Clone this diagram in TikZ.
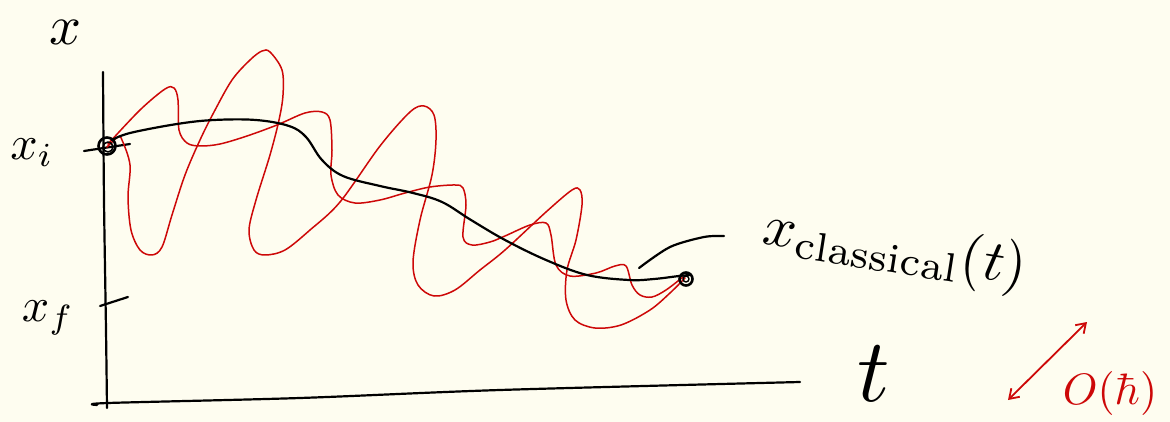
\documentclass[tikz,border=0pt]{standalone}
\usepackage{graphicx}
\usetikzlibrary{arrows.meta}
\definecolor{paper}{RGB}{254,253,240}
\definecolor{pen}{RGB}{205,8,8}
\tikzset{
  ink/.style={line width=2.2pt, line cap=round, line join=round, black},
  redink/.style={line width=1.5pt, line cap=round, line join=round, pen},
  lbl/.style={inner sep=0pt, text=black},
}
\newcommand{\fsz}[2]{\scalebox{#1}{#2}}
\begin{document}
\begin{tikzpicture}[x=1pt,y=-1pt]
\fill[paper] (0,0) rectangle (1170,422);
\useasboundingbox (0,0) rectangle (1170,422);

% axes
\draw[ink] plot[smooth] coordinates {(103,72) (104,200) (106,330) (107,408)};
\draw[ink] plot[smooth] coordinates {(97,405) (108,403) (300,398) (500,390) (800,382)};
% ticks
\draw[ink] (84,151) -- (130,144);
\draw[ink] (100,306) -- (128,297);

% red paths
\draw[redink] plot[smooth, tension=0.55] coordinates {
(108,144) (140,110) (165,89) (174,88) (178,100) (179,130) (187,143) (200,146) (220,144)
(247,136) (277,125) (305,113) (322,112) (330,120) (332,150) (331,175) (338,195) (355,203)
(380,200) (405,193) (430,187) (455,185) (463,188) (466,205) (463,237) (472,245) (490,242)
(505,236) (530,225) (546,223) (551,235) (556,265) (570,276) (596,273) (615,266) (626,266)
(632,285) (640,295) (652,297) (666,290) (683,277)};
\draw[redink] plot[smooth, tension=0.55] coordinates {
(107,147) (118,137) (122,140) (130,165) (128,197) (131,230) (140,250) (152,255) (162,247)
(172,215) (185,175) (200,140) (214,112) (232,80) (250,60) (262,51) (270,52) (282,70)
(283,95) (279,120) (270,155) (256,200) (249,230) (254,250) (265,255) (285,250) (310,230)
(340,202) (380,146) (410,112) (424,106) (434,115) (436,140) (432,175) (420,220) (413,262)
(418,285) (434,296) (455,290) (480,270) (505,250) (546,212) (572,190) (580,190) (582,205)
(576,240) (567,270) (566,300) (575,320) (595,328) (621,325) (650,310) (670,293) (685,278)};

% classical path
\draw[ink] plot[smooth, tension=0.6] coordinates {
(112,140) (130,133) (177,124) (214,120) (256,120) (289,126) (306,137) (322,160) (343,176)
(380,186) (413,193) (442,202) (471,220) (505,240) (546,260) (587,275) (629,280) (654,279)
(679,276) (690,275)};
% pointer arc
\draw[ink] plot[smooth] coordinates {(639,268) (670,247) (704,237) (724,236)};

% end points
\coordinate (xi) at (107,146);
\coordinate (xe) at (686,279);
\draw[ink, line width=2.6pt] (xi) circle (8.5);
\draw[ink, line width=1.6pt] (xi) ++(1,1) circle (5);
\draw[ink, line width=2.6pt] (xe) circle (6.5);
\draw[ink, line width=1.4pt] (xe) circle (3);

% labels
\node[lbl] (xlab) at (66,32) {\fsz{5.6}{$x$}};
\node[lbl] (xilab) at (32,153) {\fsz{4.8}{$x_{i}$}};
\node[lbl] (xflab) at (48,318) {\fsz{4.8}{$x_{f}$}};
\node[lbl, rotate=-9] (xclab) at (895,250) {\fsz{5.8}{$x_{\mathrm{classical}}(t)$}};
\node[lbl] (tlab) at (874,374) {\fsz{9}{$t$}};
\node[lbl, text=pen] (olab) at (1110,393) {\fsz{4.4}{$O(\hbar)$}};

% hbar double arrow
\coordinate (a1) at (1008,400);
\coordinate (a2) at (1087,322);
\draw[redink, line width=1.8pt, {Straight Barb[length=9pt,width=12pt]}-{Straight Barb[length=9pt,width=12pt]}] (a1) -- (a2);
\end{tikzpicture}
\end{document}
